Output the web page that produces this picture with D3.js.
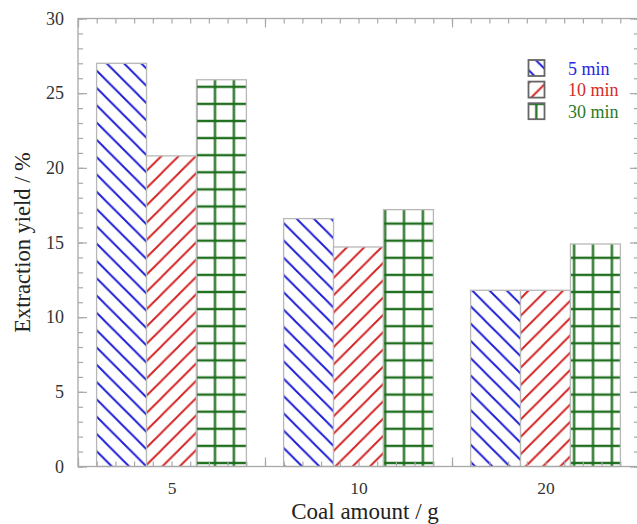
<!DOCTYPE html>
<html>
<head>
<meta charset="utf-8">
<script src="https://cdn.jsdelivr.net/npm/d3@7"></script>
<style>
  html, body { margin: 0; padding: 0; background: #fff; }
  svg { display: block; }
</style>
</head>
<body>
<svg id="chart" width="637" height="524"></svg>
<script>
// ---- data ----
const categories = ["5", "10", "20"];
const seriesNames = ["5 min", "10 min", "30 min"];
const yield5min = [27.0, 16.6, 11.8];
const yield10min = [20.8, 14.7, 11.8];
const yield30min = [25.9, 17.2, 14.9];
const yTickValues = [0, 5, 10, 15, 20, 25, 30];
const xTitle = "Coal amount / g";
const yTitle = "Extraction yield / %";

const seriesValues = [yield5min, yield10min, yield30min];
const seriesColors = ["#1c1cd6", "#d42222", "#1f6f1f"];
const textColors = ["#2626e0", "#d42a2a", "#2a7a2a"];
const patternIds = ["hatchBack", "hatchFwd", "grid"];

const svg = d3.select("#chart");
const L = 78, R = 639, T = 18.5, B = 466.5;

const x = d3.scaleLinear().domain([0, 3]).range([L, R]);
const y = d3.scaleLinear().domain([0, 30]).range([B, T]);
const barW = 0.267;

// ---- patterns ----
const defs = svg.append("defs");
const P = 17.3;
// "\" lines
const p1 = defs.append("pattern").attr("id", "hatchBack")
  .attr("patternUnits", "userSpaceOnUse")
  .attr("x", 0).attr("y", 8.6).attr("width", P).attr("height", P);
p1.append("rect").attr("width", P).attr("height", P).attr("fill", "#fff");
p1.append("path")
  .attr("d", `M${-P/4},${-P/4}L${P*1.25},${P*1.25}M${-P/4},${P*0.75}L${P/4},${P*1.25}M${P*0.75},${-P/4}L${P*1.25},${P/4}`)
  .attr("stroke", seriesColors[0]).attr("stroke-width", 1.9).attr("fill", "none");
// "/" lines
const p2 = defs.append("pattern").attr("id", "hatchFwd")
  .attr("patternUnits", "userSpaceOnUse")
  .attr("x", 6).attr("y", 0).attr("width", P).attr("height", P);
p2.append("rect").attr("width", P).attr("height", P).attr("fill", "#fff");
p2.append("path")
  .attr("d", `M${-P/4},${P*1.25}L${P*1.25},${-P/4}M${-P/4},${P/4}L${P/4},${-P/4}M${P*0.75},${P*1.25}L${P*1.25},${P*0.75}`)
  .attr("stroke", seriesColors[1]).attr("stroke-width", 1.9).attr("fill", "none");
// grid
const GW = 18.9, GH = 17.1;
const p3 = defs.append("pattern").attr("id", "grid")
  .attr("patternUnits", "userSpaceOnUse")
  .attr("x", 7.1 - GW/2).attr("y", 1.3 - GH/2).attr("width", GW).attr("height", GH);
p3.append("rect").attr("width", GW).attr("height", GH).attr("fill", "#fff");
p3.append("path")
  .attr("d", `M${GW/2},0V${GH}M0,${GH/2}H${GW}`)
  .attr("stroke", seriesColors[2]).attr("stroke-width", 2.3).attr("fill", "none");

// ---- bars ----
const barData = [];
categories.forEach((c, i) => {
  seriesValues.forEach((vals, j) => {
    barData.push({ cat: i, s: j, v: vals[i] });
  });
});
svg.append("g").selectAll("rect").data(barData).join("rect")
  .attr("x", d => x(d.cat + 0.5 + (d.s - 1) * barW - barW / 2))
  .attr("width", d => x(barW) - x(0))
  .attr("y", d => y(d.v))
  .attr("height", d => y(0) - y(d.v))
  .attr("fill", d => `url(#${patternIds[d.s]})`)
  .attr("stroke", "#b8b8b8")
  .attr("stroke-width", 1.3);

// ---- axes / frame ----
const axisColor = "#a8a8a8";
function styleAxis(g) {
  g.select(".domain").remove();
  g.selectAll(".tick line").attr("stroke", axisColor).attr("stroke-width", 1.2);
  g.selectAll("text").remove();
}
const minorX = d3.range(0, 31).map(k => k / 10);
const majorX = [0, 1, 2, 3];
const minorY = d3.range(0, 31);

svg.append("g").attr("transform", `translate(0,${B})`)
  .call(d3.axisBottom(x).tickValues(minorX).tickSize(-5).tickSizeOuter(0)).call(styleAxis);
svg.append("g").attr("transform", `translate(0,${B})`)
  .call(d3.axisBottom(x).tickValues(majorX).tickSize(-9).tickSizeOuter(0)).call(styleAxis);
svg.append("g").attr("transform", `translate(0,${T})`)
  .call(d3.axisTop(x).tickValues(minorX).tickSize(-5).tickSizeOuter(0)).call(styleAxis);
svg.append("g").attr("transform", `translate(0,${T})`)
  .call(d3.axisTop(x).tickValues(majorX).tickSize(-9).tickSizeOuter(0)).call(styleAxis);
svg.append("g").attr("transform", `translate(${L},0)`)
  .call(d3.axisLeft(y).tickValues(minorY).tickSize(-5).tickSizeOuter(0)).call(styleAxis);
svg.append("g").attr("transform", `translate(${L},0)`)
  .call(d3.axisLeft(y).tickValues(yTickValues).tickSize(-9).tickSizeOuter(0)).call(styleAxis);
svg.append("g").attr("transform", `translate(${R},0)`)
  .call(d3.axisRight(y).tickValues(minorY).tickSize(-5).tickSizeOuter(0)).call(styleAxis);
svg.append("g").attr("transform", `translate(${R},0)`)
  .call(d3.axisRight(y).tickValues(yTickValues).tickSize(-9).tickSizeOuter(0)).call(styleAxis);

svg.append("rect")
  .attr("x", L).attr("y", T).attr("width", R - L).attr("height", B - T)
  .attr("fill", "none").attr("stroke", axisColor).attr("stroke-width", 1.3);

// ---- tick labels ----
const fontFam = "'Liberation Serif', 'Times New Roman', serif";
const xl = svg.append("g").attr("transform", `translate(0,${B})`)
  .call(d3.axisBottom(x).tickValues([0.5, 1.5, 2.5]).tickFormat((d, i) => categories[i])
    .tickSize(0).tickPadding(15));
xl.select(".domain").remove();
xl.selectAll("text").attr("font-family", fontFam).attr("font-size", 17.5).attr("fill", "#333");

const yl = svg.append("g").attr("transform", `translate(${L},0)`)
  .call(d3.axisLeft(y).tickValues(yTickValues).tickFormat(d3.format("d"))
    .tickSize(0).tickPadding(14));
yl.select(".domain").remove();
yl.selectAll("text").attr("font-family", fontFam).attr("font-size", 18).attr("fill", "#333");

// ---- titles ----
svg.append("text")
  .attr("x", 365).attr("y", 519)
  .attr("text-anchor", "middle")
  .attr("font-family", fontFam).attr("font-size", 23).attr("fill", "#222")
  .text(xTitle);
svg.append("text")
  .attr("transform", `translate(30,${(T + B) / 2}) rotate(-90)`)
  .attr("text-anchor", "middle")
  .attr("font-family", fontFam).attr("font-size", 22.5).attr("fill", "#222")
  .text(yTitle);

// ---- legend ----
const lg = svg.append("g");
seriesNames.forEach((name, j) => {
  const yy = 60 + j * 21.6;
  lg.append("rect")
    .attr("x", 528.5).attr("y", yy).attr("width", 16).attr("height", 16)
    .attr("fill", `url(#${patternIds[j]})`)
    .attr("stroke", "#666").attr("stroke-width", 1.8);
  lg.append("text")
    .attr("x", 568).attr("y", yy + 14.5)
    .attr("font-family", fontFam).attr("font-size", 18)
    .attr("fill", textColors[j])
    .text(name);
});
</script>
</body>
</html>
